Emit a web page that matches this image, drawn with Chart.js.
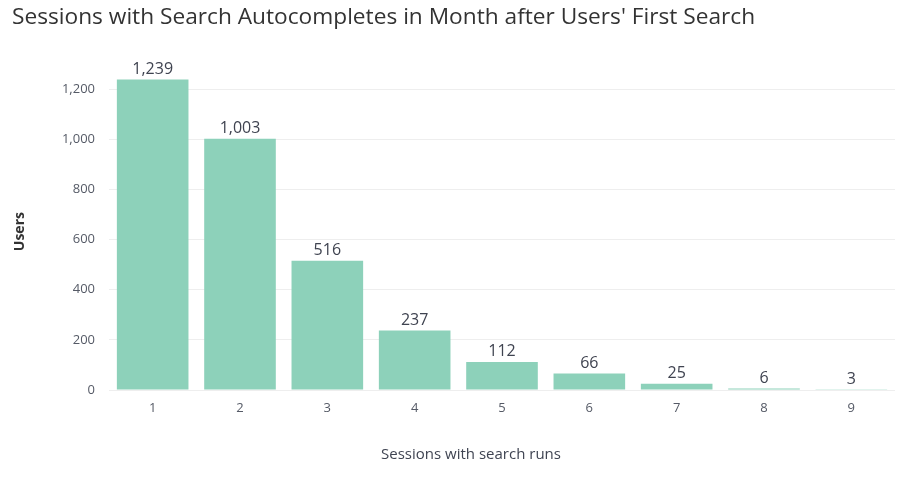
<!DOCTYPE html>
<html><head><meta charset="utf-8">
<script src="https://cdn.jsdelivr.net/npm/chart.js@4"></script>
<style>html,body{margin:0;padding:0;background:#fff}#wrap{width:902px;height:477px}</style>
</head><body><div id="wrap"><canvas id="c" width="902" height="477"></canvas></div>
<script>
const categories = ['1','2','3','4','5','6','7','8','9'];
const users = [1239, 1003, 516, 237, 112, 66, 25, 6, 3];
const yTicks = [0, 200, 400, 600, 800, 1000, 1200];
const xTitle = 'Sessions with search runs';

const FONT = "'Open Sans', 'Noto Sans', sans-serif";
const labelPlugin = {
  id: 'valueLabels',
  afterDatasetsDraw(chart) {
    const ctx = chart.ctx;
    const meta = chart.getDatasetMeta(0);
    ctx.save();
    ctx.font = "16px " + FONT;
    ctx.fillStyle = '#3f4350';
    ctx.textAlign = 'center';
    ctx.textBaseline = 'bottom';
    meta.data.forEach((bar, i) => {
      ctx.fillText(users[i].toLocaleString('en-US'), bar.x, bar.y - 2);
    });
    ctx.font = "15px " + FONT;
    ctx.fillStyle = '#3f4452';
    ctx.textBaseline = 'middle';
    ctx.fillText(xTitle, 471, 455);
    ctx.restore();
  }
};

new Chart(document.getElementById('c'), {
  type: 'bar',
  data: {
    labels: categories,
    datasets: [{
      data: users,
      backgroundColor: '#8dd1ba',
      barPercentage: 0.82,
      categoryPercentage: 1.0
    }]
  },
  options: {
    responsive: false,
    animation: false,
    layout: { padding: { left: 12, right: 7, bottom: 0, top: 0 } },
    plugins: {
      legend: { display: false },
      tooltip: { enabled: false },
      title: {
        display: true,
        text: "Sessions with Search Autocompletes in Month after Users' First Search",
        align: 'start',
        color: '#333333',
        font: { family: FONT, size: 22.7, weight: 'normal' },
        padding: { top: 4, bottom: 42 }
      }
    },
    scales: {
      x: {
        afterFit: s => { s.height = 87; },
        grid: { display: false, drawTicks: false },
        border: { display: false },
        ticks: { color: '#555a66', font: { family: FONT, size: 13 }, padding: 10 },
      },
      y: {
        min: 0,
        max: 1264,
        afterBuildTicks: s => { s.ticks = yTicks.map(v => ({ value: v })); },
        afterFit: s => { s.width = 97; },
        grid: { color: '#eeeeee', drawTicks: false },
        border: { display: false },
        ticks: {
          color: '#555a66',
          font: { family: FONT, size: 13 },
          padding: 14,
          callback: v => v.toLocaleString('en-US')
        },
        title: {
          display: true,
          text: 'Users',
          color: '#333333',
          font: { family: FONT, size: 14, weight: 'bold' },
          padding: { top: 0, bottom: 0 }
        }
      }
    }
  },
  plugins: [labelPlugin]
});
</script></body></html>
